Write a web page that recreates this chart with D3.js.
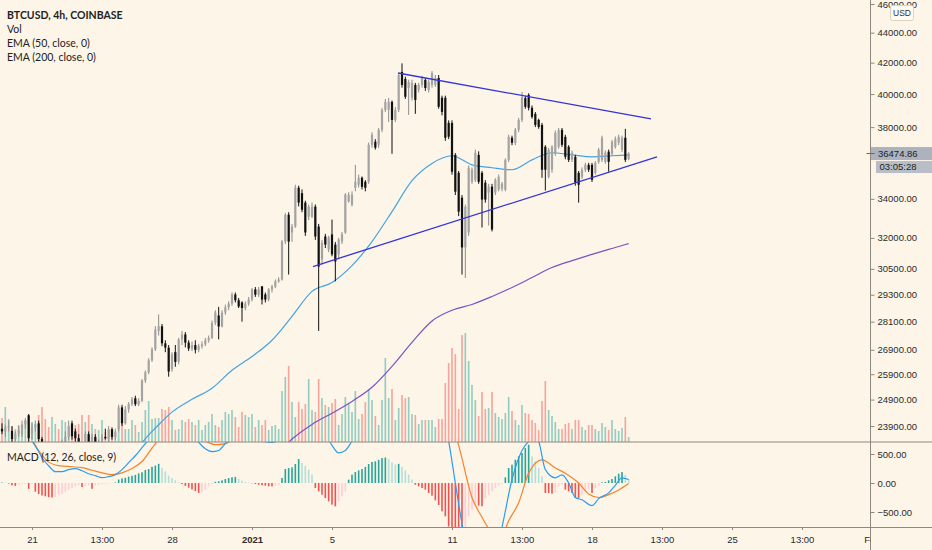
<!DOCTYPE html>
<html>
<head>
<meta charset="utf-8">
<style>
    body { margin: 0; background: #fdf5e8; }
    svg { display: block; font-family: 'Liberation Sans', Arial, sans-serif; }
    .axis .domain { display: none; }
    .axis .tick line { stroke: #8f887e; }
    .axis .tick text { font-size: 9.5px; fill: #2b2b2b; }
    .legend { font-family: Lato, 'Open Sans', sans-serif; font-size: 10.5px; fill: #222; }
</style>
</head>
<body>
<svg width="932" height="550"></svg>

<script src="https://d3js.org/d3.v7.min.js"></script>
<script>
    // 4h bars, first bar is 10 bars before 21 Dec 2020 00:00 UTC
    const firstBar = -10;

    const opens = [23600, 23800, 23700, 23850, 23720, 23420, 23600, 23600, 23960, 24300,
        23600, 23850, 24000, 23420, 23100, 22700, 22500, 22900, 23100, 22800,
        23200, 23500, 24000, 23700, 23450, 23200, 22800, 23600, 23300, 23500,
        23100, 23300, 23500, 23420, 23780, 23500, 23780, 24600, 24000, 24530,
        24720, 24950, 24720, 24850, 25650, 25980, 26460, 26920, 27700, 27900,
        27170, 26990, 26100, 26800, 26400, 27340, 27550, 27200, 26950, 27100,
        26900, 27050, 27130, 27300, 27400, 28050, 28370, 27890, 28500, 28730,
        28900, 29310, 29050, 28950, 28700, 28900, 29080, 29540, 29300, 29680,
        29310, 29080, 29540, 29680, 29910, 30000, 31820, 33170, 32270, 32570,
        34590, 34300, 33800, 33070, 33070, 33590, 32570, 30940, 32070, 31430,
        32170, 31670, 31190, 31820, 32270, 33860, 33690, 34590, 34750, 35130,
        34910, 34910, 36970, 37150, 36970, 37840, 39030, 39030, 39520, 38430,
        39030, 41400, 40950, 40380, 39770, 40570, 40260, 40570, 40890, 40260,
        40570, 40570, 41010, 39770, 39770, 38250, 38250, 36400, 35400, 34060,
        31530, 32270, 34910, 35020, 36400, 35400, 34860, 34330, 34650, 34330,
        34490, 34540, 34490, 36120, 37380, 37090, 37840, 38430, 39760, 39950,
        39160, 38790, 38430, 38130, 36860, 35180, 35570, 36460, 36860, 37840,
        37430, 36860, 36120, 36290, 35400, 35180, 35570, 35840, 35840, 35400,
        36010, 36120, 36010, 36580, 36460, 36860, 37090, 36690, 37380, 36180];

    const highs = [23900, 24000, 23950, 24100, 23900, 23700, 23900, 24100, 24200, 24350,
        24000, 24100, 24100, 23500, 23200, 22900, 23000, 23300, 23200, 23400,
        23700, 24100, 24100, 23800, 23600, 23300, 23700, 23700, 23600, 23600,
        23400, 23600, 23800, 23900, 23850, 23800, 24700, 24700, 24650, 24800,
        25000, 25050, 24950, 25700, 26050, 26550, 27000, 27900, 28420, 28000,
        27300, 27100, 26800, 27100, 27400, 27700, 27650, 27300, 27250, 27300,
        27150, 27250, 27400, 27500, 28150, 28600, 28750, 28600, 28850, 29000,
        29400, 29400, 29150, 29000, 29000, 29200, 29600, 29650, 29650, 29700,
        29400, 29600, 29750, 30000, 30100, 31900, 33250, 33300, 32700, 34750,
        34700, 34500, 33900, 33700, 33800, 33700, 32700, 31900, 32200, 32100,
        32920, 31800, 32000, 32300, 34300, 34350, 34400, 35840, 35300, 35200,
        35000, 37100, 37700, 37300, 37950, 39150, 39700, 39760, 39600, 39200,
        41300, 41950, 41100, 40900, 40900, 40700, 40700, 41150, 41000, 40900,
        41450, 41200, 41200, 39900, 39900, 38400, 38400, 36500, 35500, 34200,
        33700, 35800, 35700, 36700, 36600, 35500, 35000, 34800, 34800, 35100,
        35300, 34900, 36200, 37550, 37500, 37950, 38550, 40130, 39900, 40050,
        39300, 38900, 38500, 38250, 36950, 36800, 36950, 37800, 37950, 37950,
        37550, 36950, 36650, 36400, 35500, 35700, 35950, 35950, 35950, 36050,
        36800, 37500, 36650, 36700, 37250, 37450, 37550, 37500, 37900, 36550];

    const lows = [23400, 23600, 23500, 23700, 23300, 23300, 23500, 23500, 23800, 23300,
        23400, 23700, 23200, 22900, 22400, 21900, 22300, 22800, 22700, 22700,
        23100, 23400, 23400, 23300, 23000, 22600, 22700, 23100, 23000, 22900,
        22900, 23200, 23400, 23300, 23400, 23400, 23700, 23900, 23950, 24400,
        24650, 24650, 24650, 24800, 25550, 25900, 26400, 26850, 27500, 27050,
        26800, 25800, 26000, 26200, 26300, 27100, 27000, 26850, 26850, 26750,
        26800, 26950, 27050, 27200, 27350, 27950, 27340, 27850, 28400, 28600,
        28800, 28950, 28700, 28100, 28600, 28800, 29000, 29200, 29200, 28860,
        28950, 29000, 29400, 29600, 29850, 29950, 31700, 30230, 31800, 32500,
        33600, 33300, 32100, 32900, 33000, 31900, 27700, 30700, 31500, 31300,
        31100, 29910, 31000, 31700, 32200, 33800, 33600, 34400, 34600, 34500,
        34400, 34800, 36800, 36700, 36800, 37700, 38900, 38310, 36460, 38300,
        38900, 40400, 39700, 38730, 39600, 38790, 40100, 40400, 40200, 40100,
        40400, 40450, 39100, 38700, 37200, 37300, 35300, 34200, 33100, 30230,
        30070, 32100, 34800, 34900, 34800, 32520, 33800, 32620, 32320, 34200,
        34400, 34400, 34400, 36000, 36950, 36950, 37700, 38300, 39100, 39000,
        38500, 38000, 37900, 35130, 34440, 35100, 35400, 36350, 36750, 36850,
        36150, 36000, 36000, 34700, 33800, 35050, 35450, 35450, 34900, 35300,
        35900, 36000, 35900, 35460, 36350, 36750, 36950, 36550, 36000, 36100];

    const closes = [23800, 23700, 23850, 23900, 23420, 23600, 23750, 23960, 24100, 23450,
        23850, 23950, 23420, 23100, 22700, 22500, 22900, 23100, 22800, 23200,
        23500, 23900, 23520, 23450, 23200, 22800, 23600, 23300, 23500, 23100,
        23300, 23500, 23450, 23780, 23500, 23700, 24600, 24000, 24530, 24720,
        24910, 24720, 24850, 25650, 25980, 26460, 26920, 27760, 27900, 27170,
        26990, 26010, 26710, 26400, 27340, 27550, 27200, 26950, 27100, 26900,
        27050, 27130, 27300, 27400, 28050, 28500, 27890, 28500, 28730, 28900,
        29310, 29050, 28770, 28700, 28900, 29080, 29540, 29300, 29540, 29080,
        29080, 29540, 29680, 29910, 30000, 31820, 33170, 31820, 32570, 34590,
        33800, 33430, 32270, 33590, 33590, 32070, 30610, 31770, 31670, 32020,
        31190, 30850, 31920, 32170, 34220, 34220, 34220, 34910, 35130, 34640,
        34590, 36970, 37550, 36810, 37840, 39030, 39520, 39520, 38430, 39030,
        41200, 40570, 39830, 40760, 40700, 39640, 40570, 41010, 40380, 40760,
        41330, 41010, 39220, 38910, 37380, 37440, 35460, 34380, 33330, 31530,
        33590, 35680, 35570, 36520, 34910, 33960, 33960, 34650, 32420, 35020,
        35180, 34810, 36120, 37430, 37090, 37840, 38430, 39820, 39220, 39160,
        38610, 38130, 38010, 35570, 35570, 36690, 36860, 37670, 37840, 36970,
        36290, 36120, 36520, 34860, 34750, 35570, 35840, 35570, 35020, 35950,
        36690, 37380, 36520, 36010, 37150, 37320, 37430, 37380, 36120, 36475];

    const volumes = [2000, 2400, 3500, 2300, 1500, 1300, 1700, 1700, 2200, 2600,
        2000, 1800, 2700, 3500, 2300, 1500, 2500, 1800, 1300, 2200,
        2000, 1500, 1800, 1700, 1800, 2700, 2000, 2700, 1800, 1300,
        1200, 2200, 1000, 1200, 1200, 800, 1700, 3200, 1300, 1300,
        2200, 1700, 1000, 2000, 3200, 4100, 2300, 2400, 2400, 3300,
        3200, 3500, 2200, 1200, 1300, 2200, 2000, 2300, 2000, 1700,
        2200, 1200, 1700, 2000, 2800, 1700, 1500, 2200, 3000, 2800,
        3200, 2500, 1500, 3000, 2700, 2500, 2800, 1500, 2200, 1700,
        2200, 1200, 1600, 1700, 1300, 5100, 6500, 7600, 4000, 2500,
        4000, 3300, 3800, 6300, 3200, 3000, 6300, 4400, 3700, 3500,
        3900, 4300, 1700, 2800, 4500, 3800, 3000, 5100, 2300, 2800,
        4000, 5300, 4200, 2600, 1700, 4200, 8400, 4400, 5300, 2200,
        3400, 4700, 4400, 4500, 2800, 2700, 1800, 2200, 2200, 2200,
        2200, 1500, 2300, 2300, 5900, 7900, 9400, 8800, 3300, 10700,
        10900, 8100, 5700, 4200, 2600, 5000, 3300, 3400, 5000, 2900,
        2500, 2300, 2900, 4500, 3100, 2200, 1700, 3700, 2900, 2800,
        2200, 1900, 1200, 4100, 6100, 3200, 2600, 2000, 1300, 1300,
        1800, 1900, 1300, 2200, 2200, 1500, 1200, 1700, 1700, 1300,
        1100, 1900, 1500, 1200, 2200, 1300, 1100, 1400, 2500, 500];

    const macdHist = [5, 8, 5, -10, -40, -50, -30, -15, -10, -100,
        -20, -150, -190, -215, -230, -245, -250, -240, -215, -190,
        -160, -120, -90, -60, -40, -70, -50, -40, -100, -40,
        -30, -20, -15, -10, -5, 10, 60, 80, 90, 110,
        125, 140, 165, 185, 225, 240, 280, 300, 330, 260,
        200, 126, 86, 46, 10, -20, -50, -80, -110, -140,
        -172, -160, -115, -57, -20, 20, 30, 46, 69, 86,
        98, 105, 69, 40, 17, 5, -5, -17, -29, -40,
        -46, -57, -57, -46, -29, 86, 241, 258, 270, 327,
        413, 345, 299, 230, 144, -86, -144, -201, -259, -316,
        -373, -402, -316, -230, -144, 57, 144, 189, 218, 241,
        276, 327, 362, 373, 400, 430, 440, 413, 356, 316,
        330, 276, 218, 144, 57, -29, -57, -86, -115, -172,
        -218, -300, -380, -488, -575, -750, -850, -950, -1000, -1050,
        -900, -575, -460, -373, -390, -400, -259, -201, -144, -86,
        -46, -17, 98, 258, 316, 402, 459, 517, 603, 660,
        459, 373, 258, 115, -172, -172, -184, -161, -60, -30,
        -115, -144, -172, -259, -259, -201, -144, -103, -172, -86,
        -46, 11, 17, 46, 69, 115, 161, 189, 144, 69];

    // moving averages, read at daily steps (bar index from 21 Dec 00:00)
    const ema50Idx = [-10, -6, 0, 6, 12, 18, 24, 30, 36, 42, 48, 54, 60, 66, 72, 78, 84, 90, 96,
        102, 108, 114, 120, 126, 132, 138, 144, 150, 156, 162, 168, 174, 179];
    const ema50Vals = [22450, 22500, 22600, 22700, 22800, 22850, 22900, 23000, 23700, 24420,
        24910, 25340, 26060, 26620, 27300, 28330, 29450, 29860, 30650, 31820,
        33330, 34970, 35920, 36350, 35840, 35680, 35570, 36120, 36520, 36400,
        36290, 36350, 36400];
    const ema200Idx = [60, 66, 72, 78, 84, 90, 96, 102, 108, 114, 120, 126, 132, 138, 144,
        150, 156, 162, 168, 174, 179];
    const ema200Vals = [22300, 22500, 22700, 23420, 23960, 24380, 24830, 25380, 26220, 27210,
        28130, 28600, 28860, 29220, 29630, 30090, 30560, 30890, 31190, 31480, 31720];

    const macdIdx = [-10, -6, -3, 0, 2, 3, 5, 7, 9, 11, 13, 15, 17, 19, 21, 23, 25, 27, 29, 31,
        33, 35, 38, 42, 46, 50, 52, 54, 56, 58, 60, 63, 66, 69, 72, 75, 78, 82, 86, 90,
        92, 94, 96, 100, 105, 110, 115, 120, 124, 125, 127, 129, 131, 134, 137, 140, 141, 144, 147, 149,
        151, 152, 154, 157, 159, 161, 163, 165, 168, 170, 173, 175, 177, 179];
    const macdVals = [1150, 1000, 885, 720, 540, 436, 298, 195, 195, 230, 247, 212, 160, 126, 91, 109, 143, 230, 350, 470,
        609, 747, 950, 1050, 950, 700, 590, 540, 560, 680, 800, 900, 850, 730, 700, 780, 1000, 1300, 1100, 650,
        520, 560, 720, 1000, 1400, 1700, 1800, 1600, 1000, 720, 0, -700, -1200, -1500, -1450, -1000, -760, 60, 560, 720,
        800, 720, 230, 90, 140, 0, -250, -290, -390, -270, -170, -40, 90, 60];
    const signalIdx = [-10, -5, 0, 1, 3, 5, 8, 12, 15, 18, 21, 24, 27, 30, 33, 36, 38, 42, 48, 52,
        55, 58, 62, 67, 72, 77, 82, 87, 92, 97, 102, 108, 114, 120, 125, 128, 132, 135, 138, 141,
        143, 146, 149, 153, 157, 160, 164, 167, 170, 173, 176, 179];
    const signalVals = [1050, 950, 760, 650, 480, 360, 300, 280, 265, 220, 175, 143, 175, 250, 370, 600, 750, 900, 850, 720,
        660, 680, 800, 850, 800, 900, 1100, 1000, 780, 800, 1100, 1400, 1600, 1600, 1200, 650, -250, -590, -850, -900,
        -650, -340, 170, 400, 260, 170, 0, -190, -250, -200, -120, -10];

    // triangle drawn on the chart: [bar index, price]
    const upperTrend = [[109.8, 41330], [185.7, 38490]];
    const lowerTrend = [[84.3, 30610], [187.5, 36290]];

    const priceTicks = [46000, 44000, 42000, 40000, 38000, 34000, 32000, 30500, 29300, 28100, 26900, 25900, 24900, 23900];
    const macdTicks = [500, 0, -500];
    const timeTickDates = [[2020, 11, 21, 0], [2020, 11, 24, 12], [2020, 11, 28, 0], [2021, 0, 1, 0], [2021, 0, 5, 0],
        [2021, 0, 11, 0], [2021, 0, 14, 12], [2021, 0, 18, 0], [2021, 0, 21, 12], [2021, 0, 25, 0], [2021, 0, 28, 12], [2021, 1, 1, 0]];
    const timeTickLabels = ["21", "13:00", "28", "2021", "5", "11", "13:00", "18", "13:00", "25", "13:00", "Feb"];

    const lastPrice = 36474.86;
    const countdown = "03:05:28";

    // ---- layout ----
    const W = 932, H = 550;
    const axisX = 870.5;
    const priceBottom = 442, macdBottom = 527;
    const lineCol = "#8f887e";

    const svg = d3.select("svg");
    const day0 = Date.UTC(2020, 11, 21);
    const barTime = n => new Date(day0 + n * 4 * 3600e3);

    const x = d3.scaleTime()
        .domain([new Date(day0), new Date(Date.UTC(2021, 1, 1))])
        .range([32, 872]);

    const y = d3.scaleLog()
        .domain([46000, 23900])
        .range([4, 426]);

    const yVol = d3.scaleLinear()
        .domain([0, 11000])
        .range([priceBottom, priceBottom - 110]);

    const yMacd = d3.scaleLinear()
        .domain([500, -500])
        .range([454, 512]);

    const defs = svg.append("defs");
    defs.append("clipPath").attr("id", "clipPrice")
        .append("rect").attr("x", 0).attr("y", 0).attr("width", axisX).attr("height", priceBottom);
    defs.append("clipPath").attr("id", "clipMacd")
        .append("rect").attr("x", 0).attr("y", priceBottom).attr("width", axisX).attr("height", macdBottom - priceBottom);
    defs.append("clipPath").attr("id", "clipTime")
        .append("rect").attr("x", 0).attr("y", macdBottom).attr("width", axisX).attr("height", H - macdBottom);

    const bars = closes.map((c, i) => ({
        n: firstBar + i,
        o: opens[i], h: highs[i], l: lows[i], c: c,
        v: volumes[i], hist: macdHist[i]
    }));

    // ---- price pane ----
    const price = svg.append("g").attr("clip-path", "url(#clipPrice)");

    price.append("g").attr("class", "volume")
        .selectAll("rect")
        .data(bars)
        .join("rect")
        .attr("x", d => x(barTime(d.n)) - 0.8)
        .attr("width", 1.6)
        .attr("y", d => yVol(d.v))
        .attr("height", d => yVol(0) - yVol(d.v))
        .attr("fill", d => d.c >= d.o ? "rgba(38,166,154,0.5)" : "rgba(239,83,80,0.5)");

    const emaLine = d3.line()
        .x(d => x(barTime(d[0])))
        .y(d => y(d[1]))
        .curve(d3.curveMonotoneX);

    price.append("path")
        .datum(ema200Idx.map((n, i) => [n, ema200Vals[i]]))
        .attr("d", emaLine)
        .attr("fill", "none")
        .attr("stroke", "#7b52c4")
        .attr("stroke-width", 1.2);

    price.append("path")
        .datum(ema50Idx.map((n, i) => [n, ema50Vals[i]]))
        .attr("d", emaLine)
        .attr("fill", "none")
        .attr("stroke", "#45a3e3")
        .attr("stroke-width", 1.2);

    const candles = price.append("g").attr("class", "candles")
        .selectAll("g")
        .data(bars)
        .join("g");

    candles.append("line")
        .attr("x1", d => x(barTime(d.n)))
        .attr("x2", d => x(barTime(d.n)))
        .attr("y1", d => y(d.h))
        .attr("y2", d => y(d.l))
        .attr("stroke", d => d.c >= d.o ? "#8c8c8c" : "#111")
        .attr("stroke-width", 1);

    candles.append("rect")
        .attr("x", d => x(barTime(d.n)) - 1.1)
        .attr("width", 2.2)
        .attr("y", d => y(Math.max(d.o, d.c)))
        .attr("height", d => Math.max(1, y(Math.min(d.o, d.c)) - y(Math.max(d.o, d.c))))
        .attr("fill", d => d.c >= d.o ? "#a3a3a3" : "#111");

    [upperTrend, lowerTrend].forEach(t => {
        price.append("line")
            .attr("x1", x(barTime(t[0][0])))
            .attr("y1", y(t[0][1]))
            .attr("x2", x(barTime(t[1][0])))
            .attr("y2", y(t[1][1]))
            .attr("stroke", "#3434d6")
            .attr("stroke-width", 1.3);
    });

    // ---- MACD pane ----
    const macd = svg.append("g").attr("clip-path", "url(#clipMacd)");

    macd.append("g")
        .selectAll("rect")
        .data(bars)
        .join("rect")
        .attr("x", d => x(barTime(d.n)) - 0.8)
        .attr("width", 1.6)
        .attr("y", d => Math.min(yMacd(d.hist), yMacd(0)))
        .attr("height", d => Math.abs(yMacd(d.hist) - yMacd(0)))
        .attr("fill", (d, i) => {
            const prev = i > 0 ? bars[i - 1].hist : d.hist;
            if (d.hist >= 0) return d.hist >= prev ? "#26a69a" : "#b2dfdb";
            return d.hist <= prev ? "#ef5350" : "#ffcdd2";
        });

    const macdLine = d3.line()
        .x(d => x(barTime(d[0])))
        .y(d => yMacd(d[1]))
        .curve(d3.curveMonotoneX);

    macd.append("path")
        .datum(signalIdx.map((n, i) => [n, signalVals[i]]))
        .attr("d", macdLine)
        .attr("fill", "none")
        .attr("stroke", "#f5832a")
        .attr("stroke-width", 1.2);

    macd.append("path")
        .datum(macdIdx.map((n, i) => [n, macdVals[i]]))
        .attr("d", macdLine)
        .attr("fill", "none")
        .attr("stroke", "#2d9cee")
        .attr("stroke-width", 1.2);

    // ---- frame lines ----
    svg.append("line").attr("x1", 0).attr("x2", W).attr("y1", priceBottom).attr("y2", priceBottom)
        .attr("stroke", lineCol);
    svg.append("line").attr("x1", 0).attr("x2", W).attr("y1", macdBottom + 0.5).attr("y2", macdBottom + 0.5)
        .attr("stroke", lineCol);
    svg.append("line").attr("x1", axisX).attr("x2", axisX).attr("y1", 0).attr("y2", H)
        .attr("stroke", lineCol);

    // ---- axes ----
    svg.append("g")
        .attr("class", "axis")
        .attr("transform", `translate(${axisX},0)`)
        .call(d3.axisRight(y).tickValues(priceTicks).tickFormat(d3.format(".2f")).tickSize(4).tickPadding(3));

    svg.append("g")
        .attr("class", "axis")
        .attr("transform", `translate(${axisX},0)`)
        .call(d3.axisRight(yMacd).tickValues(macdTicks).tickFormat(d3.format(".2f")).tickSize(4).tickPadding(3));

    const tickDates = timeTickDates.map(d => new Date(Date.UTC(d[0], d[1], d[2], d[3])));
    const timeAxis = svg.append("g")
        .attr("class", "axis")
        .attr("clip-path", "url(#clipTime)")
        .append("g")
        .attr("transform", `translate(0,${macdBottom})`)
        .call(d3.axisBottom(x).tickValues(tickDates).tickFormat((d, i) => timeTickLabels[i]).tickSize(3).tickPadding(6));
    timeAxis.selectAll(".tick text")
        .style("font-weight", (d, i) => timeTickLabels[i] === "2021" ? "bold" : "normal");

    // ---- last price marker ----
    const yLast = y(lastPrice);
    svg.append("rect").attr("x", axisX + 0.5).attr("y", yLast - 6.5).attr("width", W - axisX).attr("height", 13)
        .attr("fill", "#adb2bc");
    svg.append("line").attr("x1", axisX - 4).attr("x2", axisX + 4).attr("y1", yLast).attr("y2", yLast)
        .attr("stroke", "#666");
    svg.append("text").attr("x", axisX + 7.5).attr("y", yLast).attr("dy", "0.35em")
        .attr("font-size", 9.5).attr("fill", "#1e1e1e").text(d3.format(".2f")(lastPrice));
    svg.append("rect").attr("x", axisX + 5.5).attr("y", yLast + 7.5).attr("width", W - axisX - 5.5).attr("height", 12)
        .attr("fill", "#b9bdc5");
    svg.append("text").attr("x", axisX + 9).attr("y", yLast + 13.5).attr("dy", "0.35em")
        .attr("font-size", 9.5).attr("fill", "#1e1e1e").text(countdown);

    // currency badge
    svg.append("rect").attr("x", 890.5).attr("y", 5.5).attr("width", 23).attr("height", 15).attr("rx", 2)
        .attr("fill", "#fffaf2").attr("stroke", "#dcd3c4");
    svg.append("text").attr("x", 902).attr("y", 13).attr("dy", "0.35em").attr("text-anchor", "middle")
        .attr("font-size", 8.5).attr("fill", "#333").text("USD");

    // ---- legends ----
    const legend = ["BTCUSD, 4h, COINBASE", "Vol", "EMA (50, close, 0)", "EMA (200, close, 0)"];
    svg.append("g")
        .selectAll("text")
        .data(legend)
        .join("text")
        .attr("class", "legend")
        .attr("x", 7)
        .attr("y", (d, i) => 15 + i * 14.2)
        .attr("dy", "0.35em")
        .style("font-weight", (d, i) => i === 0 ? "bold" : "normal")
        .text(d => d);

    svg.append("text")
        .attr("class", "legend")
        .attr("x", 7)
        .attr("y", 457)
        .attr("dy", "0.35em")
        .text("MACD (12, 26, close, 9)");
</script>
</body>
</html>
